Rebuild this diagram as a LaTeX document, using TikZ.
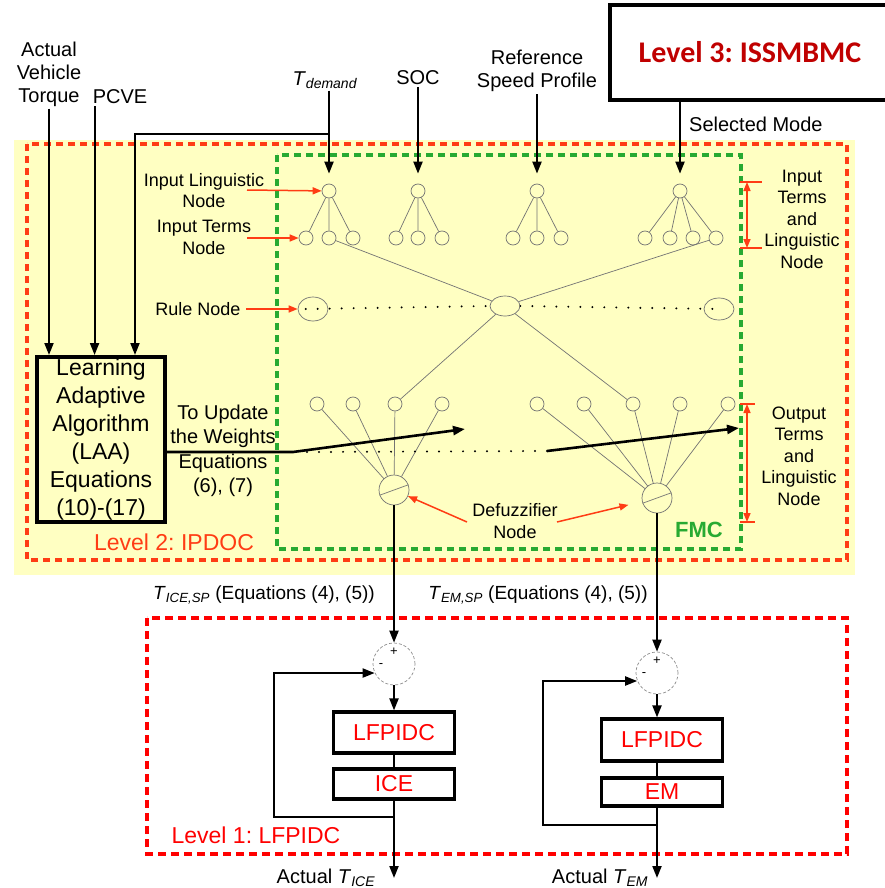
\documentclass[tikz,border=0pt]{standalone}
\usepackage{fontspec}
\setmainfont{Liberation Sans}
\newfontfamily\calibri{Carlito}
\usetikzlibrary{arrows.meta,shapes.geometric}
\frenchspacing
\definecolor{bgyellow}{RGB}{255,255,194}
\definecolor{orred}{RGB}{255,60,20}
\definecolor{pured}{RGB}{255,0,0}
\definecolor{fgreen}{RGB}{40,170,50}
\definecolor{darkred}{RGB}{192,0,0}
\tikzstyle{tnode}=[circle,inner sep=0pt,minimum size=14pt,draw=black!55,line width=0.7pt]
\tikzstyle{rnode}=[ellipse,inner sep=0pt,minimum width=30pt,minimum height=22pt,draw=black!55,line width=0.7pt]
\tikzstyle{dnode}=[circle,inner sep=0pt,minimum size=30pt,draw=black!55,line width=0.7pt]
\tikzstyle{snode}=[circle,inner sep=0pt,minimum size=42pt,draw=black!45,densely dashed,line width=0.7pt]
\tikzstyle{blk}=[draw=black,line width=3.2pt,minimum width=121pt,inner sep=2pt,text=pured,font=\fontsize{23}{26}\selectfont]
\tikzstyle{net}=[black!55,line width=0.7pt]
\tikzstyle{inarrow}=[->,line width=2pt]
\tikzstyle{updarrow}=[->,line width=2.6pt]
\tikzstyle{redarrow}=[->,orred,line width=1.5pt,>={Triangle[length=9pt,width=7pt]}]
\tikzstyle{dotrow}=[line width=2.2pt,line cap=round,dash pattern=on 0pt off 12pt]
\tikzstyle{lbl}=[font=\fontsize{20}{23}\selectfont,align=center,inner sep=2pt]
\tikzstyle{slbl}=[font=\fontsize{18}{21.5}\selectfont,align=center,inner sep=2pt]

\begin{document}
\begin{tikzpicture}[x=1pt,y=-1pt,>={Triangle[length=12pt,width=9pt]}]
\useasboundingbox (0,0) rectangle (885,888);

% level 2 area
\fill[bgyellow] (14,140) rectangle (855,575);
\draw[orred,line width=3.3pt,dash pattern=on 7pt off 5pt] (27,144) rectangle (847,560);
\draw[fgreen,line width=3.3pt,dash pattern=on 7pt off 5pt] (277,155) rectangle (741,549);
\node (lvl2) at (174,542) [text=orred,font=\fontsize{23}{26}\selectfont] {Level 2: IPDOC};
\node (fmc) at (699,530) [text=fgreen,font=\bfseries\fontsize{22}{26}\selectfont] {FMC};

% level 3
\node (lvl3) at (750,52.5) [draw,fill=white,line width=4.5pt,minimum width=280pt,minimum height=95pt,text=darkred,font=\calibri\bfseries\fontsize{30}{34}\selectfont] {Level 3: ISSMBMC};

% inputs
\node (avt) at (49,74) [lbl] {Actual\\Vehicle\\Torque};
\node (pcve) at (120,97) [lbl] {PCVE};
\node (tdem) at (325,80) [lbl] {\textit{T}\textsubscript{\textit{demand}}};
\node (soc) at (418,78) [lbl] {SOC};
\node (rsp) at (537,71) [lbl] {Reference\\Speed Profile};
\node (selm) at (687,124) [lbl,anchor=west] {Selected Mode};

\node (laa) at (101,439.5) [draw,line width=4pt,minimum width=128pt,minimum height=165pt,inner sep=0pt,align=center,font=\fontsize{23}{28}\selectfont] {Learning\\Adaptive\\Algorithm\\(LAA)\\Equations\\(10)-(17)};

% input linguistic and term nodes
\node (li1) at (329,191) [tnode] {};
\node (li2) at (418,191) [tnode] {};
\node (li3) at (537,191) [tnode] {};
\node (li4) at (680,191) [tnode] {};

\node (t11) at (306,238) [tnode] {};
\node (t12) at (329,238) [tnode] {};
\node (t13) at (353,238) [tnode] {};
\node (t21) at (396,238) [tnode] {};
\node (t22) at (418,238) [tnode] {};
\node (t23) at (442,238) [tnode] {};
\node (t31) at (513,238) [tnode] {};
\node (t32) at (537,238) [tnode] {};
\node (t33) at (561,238) [tnode] {};
\node (t41) at (645,238) [tnode] {};
\node (t42) at (670,238) [tnode] {};
\node (t43) at (693,238) [tnode] {};
\node (t44) at (716,238) [tnode] {};

% rule nodes
\node (rl) at (313,309) [rnode,minimum height=24pt] {};
\node (rc) at (505,306) [rnode,minimum height=20pt] {};
\node (rr) at (719,309) [rnode] {};

% output term nodes and defuzzifiers
\node (o11) at (317,404) [tnode] {};
\node (o12) at (353,404) [tnode] {};
\node (o13) at (395,404) [tnode] {};
\node (o14) at (442,404) [tnode] {};
\node (o21) at (537,404) [tnode] {};
\node (o22) at (584,404) [tnode] {};
\node (o23) at (633,404) [tnode] {};
\node (o24) at (680,404) [tnode] {};
\node (o25) at (728,404) [tnode] {};

\node (dl) at (394,490) [dnode] {};
\node (dr) at (657,498) [dnode] {};
\draw[net] (dl.200) -- (dl.20);
\draw[net] (dr.200) -- (dr.20);

\draw[net] (li1) -- (t11) (li1) -- (t12) (li1) -- (t13);
\draw[net] (li2) -- (t21) (li2) -- (t22) (li2) -- (t23);
\draw[net] (li3) -- (t31) (li3) -- (t32) (li3) -- (t33);
\draw[net] (li4) -- (t41) (li4) -- (t42) (li4) -- (t43) (li4) -- (t44);
\draw[net] (t12) -- (rc) (t44) -- (rc);
\draw[net] (rc) -- (o13) (rc) -- (o23);
\draw[net] (o11) -- (dl) (o12) -- (dl) (o13) -- (dl) (o14) -- (dl);
\draw[net] (o21) -- (dr) (o22) -- (dr) (o23) -- (dr) (o24) -- (dr) (o25) -- (dr);

\draw[dotrow] ([xshift=8pt]rl.west) -- (rc.west) (rc.east) -- (rr.center);

% input arrows
\coordinate (br) at (329,134);
\draw[inarrow] (avt.south) -- (avt.south |- laa.north);
\draw[inarrow] ([xshift=4pt]pcve.south west) -- ([xshift=4pt]pcve.south west |- laa.north);
\draw[inarrow] (br) -| ([xshift=-32pt]laa.north east);
\draw[inarrow,shorten >=10pt] (tdem.south -| li1) -- (li1);
\draw[inarrow,shorten >=10pt] (soc.south) -- (li2);
\draw[inarrow,shorten >=10pt] (rsp.south) -- (li3);
\draw[inarrow,shorten >=10pt] (lvl3.south -| li4) -- (li4);

% weight update
\node (upd) at (223,451) [lbl,font=\fontsize{20}{24.5}\selectfont] {To Update\\the Weights\\Equations\\(6), (7)};
\coordinate (u0) at (293,452);
\coordinate (u1) at (465,429);
\coordinate (u2) at (547,451);
\coordinate (u3) at (739,428);
\draw[dotrow] ([xshift=14pt]u0) -- (u2);
\draw[updarrow] (laa.east |- u0) -- (u0) -- (u1);
\draw[updarrow] (u2) -- (u3);

% red labels
\node (lab1) at (204,190.5) [slbl] {Input Linguistic\\Node};
\node (lab2) at (204,237.5) [slbl] {Input Terms\\Node};
\node (lab3) at (198,309) [slbl] {Rule Node};
\node (lab4) at (515,521) [slbl,font=\fontsize{18}{22.5}\selectfont] {Defuzzifier\\Node};
\node (lab5) at (802,219) [slbl] {Input\\Terms\\and\\Linguistic\\Node};
\node (lab6) at (799,456) [slbl] {Output\\Terms\\and\\Linguistic\\Node};

\coordinate (a1) at (247,190);
\coordinate (a2) at (247,238);
\coordinate (a3) at (246,309);
\coordinate (a4) at (467,522);
\coordinate (a5) at (557,522);
\draw[redarrow] (a1) -- (li1);
\draw[redarrow] (a2) -- (t11);
\draw[redarrow] (a3) -- (rl);
\draw[redarrow] (a4) -- (dl);
\draw[redarrow,shorten >=14pt] (a5) -- (dr);

\coordinate (b1) at (747,182);
\coordinate (b2) at (747,248);
\coordinate (b3) at (747,404);
\coordinate (b4) at (747,522);
\draw[redarrow,<->] (b1) -- (b2);
\draw[redarrow,<->] (b3) -- (b4);
\draw[orred,line width=1.4pt] ([xshift=-7pt]b1) -- ++(22,0) ([xshift=-7pt]b2) -- ++(22,0);
\draw[orred,line width=1.4pt] ([xshift=-7pt]b3) -- ++(15,0) ([xshift=-7pt]b4) -- ++(15,0);

% level 1
\draw[pured,line width=3.3pt,dash pattern=on 8pt off 5pt] (147,618) rectangle (847,854);
\node (lvl1) at (256,835) [text=pured,font=\fontsize{23}{26}\selectfont] {Level 1: LFPIDC};

\node (spl) at (264,595) [lbl,font=\fontsize{19}{23}\selectfont] {\textit{T}\textsubscript{\textit{ICE,SP}} (Equations (4), (5))};
\node (spr) at (538,595) [lbl,font=\fontsize{19}{23}\selectfont] {\textit{T}\textsubscript{\textit{EM,SP}} (Equations (4), (5))};

\node (sl) at (394,664) [snode] {};
\node (pl) at (394,732.5) [blk,minimum height=41pt] {LFPIDC};
\node (il) at (394,784) [blk,minimum height=30pt] {ICE};
\node (sr) at (657,673) [snode] {};
\node (pr) at (662,740) [blk,minimum height=42pt] {LFPIDC};
\node (er) at (662,792) [blk,minimum height=28pt] {EM};

\node (slp) at ([yshift=12pt]sl.center) [font=\fontsize{13}{13}\selectfont] {+};
\node (slm) at ([xshift=-13pt,yshift=-2pt]sl.center) [font=\fontsize{13}{13}\selectfont] {-};
\node (srp) at ([yshift=12pt]sr.center) [font=\fontsize{13}{13}\selectfont] {+};
\node (srm) at ([xshift=-13pt,yshift=-2pt]sr.center) [font=\fontsize{13}{13}\selectfont] {-};

\node (al) at (326,878) [lbl] {Actual \textit{T}\textsubscript{\textit{ICE}}};
\node (ar) at (600,878) [lbl] {Actual \textit{T}\textsubscript{\textit{EM}}};

\draw[inarrow] (dl) -- (sl);
\draw[inarrow] (sl) -- (pl);
\draw[line width=2pt] (pl) -- (il);
\draw[inarrow] (il) -- (il |- al);
\coordinate (fl) at (394,817);
\draw[inarrow] (fl) -- ++(-120,0) |- (sl.205);

\draw[inarrow] (dr) -- (sr);
\draw[inarrow] (sr) -- (sr |- pr.north);
\draw[line width=2pt] (sr |- pr.south) -- (sr |- er.north);
\draw[inarrow] (sr |- er.south) -- (sr |- ar);
\coordinate (fr) at (657,825);
\draw[inarrow] (fr) -- ++(-114,0) |- (sr.202);

\end{tikzpicture}
\end{document}
